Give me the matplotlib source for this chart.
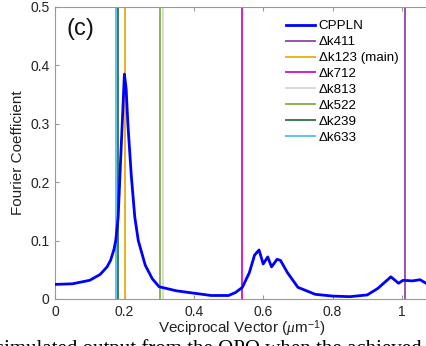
import numpy as np
import matplotlib
matplotlib.use("Agg")
from matplotlib import pyplot as plt

plt.rcParams['font.family'] = ['Liberation Sans', 'DejaVu Sans']
plt.rcParams['mathtext.fontset'] = 'custom'
plt.rcParams['mathtext.it'] = 'Liberation Serif:italic'
plt.rcParams['mathtext.rm'] = 'Liberation Sans'

# CPPLN Fourier spectrum
k = [0.0, 0.05, 0.1, 0.13, 0.15, 0.16, 0.17, 0.175, 0.182, 0.19, 0.2, 0.205,
     0.21, 0.22, 0.23, 0.24, 0.26, 0.28, 0.3, 0.35, 0.4, 0.45, 0.5, 0.52,
     0.54, 0.56, 0.575, 0.588, 0.6, 0.613, 0.624, 0.64, 0.65, 0.67, 0.7,
     0.75, 0.8, 0.85, 0.9, 0.93, 0.968, 0.99, 1.003, 1.03, 1.052, 1.072, 1.09]
coef = [0.025, 0.026, 0.032, 0.042, 0.055, 0.066, 0.085, 0.1, 0.14, 0.25,
        0.385, 0.36, 0.3, 0.21, 0.14, 0.1, 0.058, 0.035, 0.021, 0.014, 0.01,
        0.006, 0.006, 0.011, 0.02, 0.045, 0.075, 0.084, 0.06, 0.072, 0.055,
        0.068, 0.066, 0.045, 0.02, 0.008, 0.005, 0.004, 0.007, 0.018, 0.038,
        0.027, 0.032, 0.031, 0.033, 0.026, 0.03]

# phase mismatch lines
dk_labels = ["\u0394k411", "\u0394k123 (main)", "\u0394k712", "\u0394k813",
             "\u0394k522", "\u0394k239", "\u0394k633"]
dk_pos = [1.009, 0.203, 0.539, 0.310, 0.303, 0.182, 0.175]
dk_colors = ["#9a52ad", "#edb120", "#d21fd2", "#d9d9d9", "#88b84a",
             "#3f7a55", "#5cc3ee"]

fig = plt.figure(figsize=(4.27, 3.46), dpi=100)
W, H = 427, 346
x0, x1 = 55, 55 + 1.1 * 347
y0, y1 = 299, 7
ax = fig.add_axes([x0 / W, 1 - y0 / H, (x1 - x0) / W, (y0 - y1) / H])

ax.plot(k, coef, color="#0000ff", lw=2, label="CPPLN", zorder=3)
for pos, lab, c in zip(dk_pos, dk_labels, dk_colors):
    ax.axvline(pos, color=c, lw=1.4, label=lab, zorder=2)

ax.set_xlim(0, 1.1)
ax.set_ylim(0, 0.5)
ax.set_xticks([0, 0.2, 0.4, 0.6, 0.8, 1])
ax.set_xticklabels(["0", "0.2", "0.4", "0.6", "0.8", "1"])
ax.set_yticks([0, 0.1, 0.2, 0.3, 0.4, 0.5])
ax.set_yticklabels(["0", "0.1", "0.2", "0.3", "0.4", "0.5"])
ax.tick_params(direction="in", top=True, right=False, length=3,
               color="#999999", labelsize=10, labelcolor="#222222", pad=4)
for s in ["left", "bottom", "top"]:
    ax.spines[s].set_color("#999999")
    ax.spines[s].set_linewidth(0.8)
ax.spines["right"].set_visible(False)

ax.set_xlabel("Veciprocal Vector ($\\mathit{\\mu}$m$^{-1}$)", fontsize=11,
              color="#222222")
ax.set_ylabel("Fourier Coefficient", fontsize=11, color="#222222")
ax.xaxis.set_label_coords((242 - x0) / (x1 - x0), -(333 - y0) / (y0 - y1))
ax.xaxis.label.set_va("baseline")
ax.yaxis.set_label_coords(-(55 - 18) / (x1 - x0), 0.5)
ax.yaxis.label.set_va("center")

ax.text(66 / W, 1 - 29 / H, "(c)", transform=fig.transFigure, fontsize=17,
        va="center", ha="left", color="#111111")

ax.legend(loc="upper left", bbox_to_anchor=(286 / W, 1 - 20 / H),
          bbox_transform=fig.transFigure, frameon=False, fontsize=9.6,
          handlelength=2.2, handletextpad=0.25, labelspacing=0.27,
          borderaxespad=0, borderpad=0)

fig.text(-4 / W, 1 - 354 / H, "simulated output from the OPO when the achieved",
         family="Liberation Serif", fontsize=15, va="baseline", ha="left")

fig.savefig("out.png", dpi=100)
